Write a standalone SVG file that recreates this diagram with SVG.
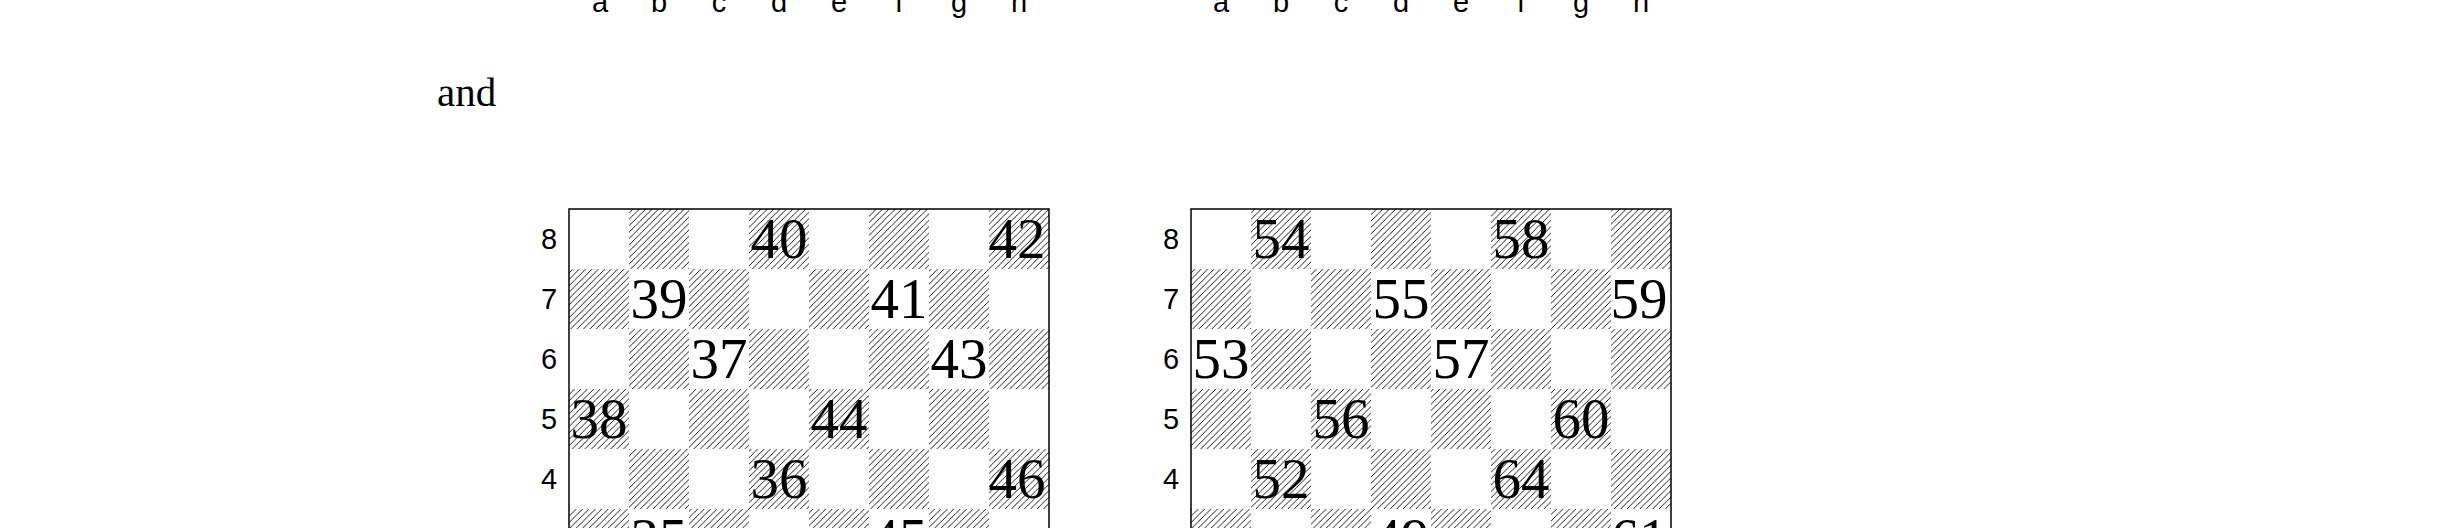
<svg xmlns="http://www.w3.org/2000/svg" xmlns:xlink="http://www.w3.org/1999/xlink" width="2448" height="528" viewBox="0 0 2448 528">
<style>
.lbl{font-family:"Liberation Sans","DejaVu Sans",sans-serif;font-size:29px;fill:#000;text-anchor:middle}
.num{font-family:"Liberation Serif","DejaVu Serif",serif;font-size:57px;fill:#000;text-anchor:middle}
.txt{font-family:"Liberation Serif","DejaVu Serif",serif;font-size:41px;fill:#000}
.dark{fill:url(#hatch)}
.frame{fill:none;stroke:#000;stroke-width:1.5}
</style>
<defs>
<pattern id="hatch" patternUnits="userSpaceOnUse" width="6.4" height="6.4">
<path d="M0,6.4 L6.4,0 M-1,1 L1,-1 M5.4,7.4 L7.4,5.4" stroke="#000" stroke-width="0.9" fill="none"/>
</pattern>
<g id="checker">
<rect class="dark" x="60" y="0" width="60" height="60"/><rect class="dark" x="180" y="0" width="60" height="60"/><rect class="dark" x="300" y="0" width="60" height="60"/><rect class="dark" x="420" y="0" width="60" height="60"/>
<rect class="dark" x="0" y="60" width="60" height="60"/><rect class="dark" x="120" y="60" width="60" height="60"/><rect class="dark" x="240" y="60" width="60" height="60"/><rect class="dark" x="360" y="60" width="60" height="60"/>
<rect class="dark" x="60" y="120" width="60" height="60"/><rect class="dark" x="180" y="120" width="60" height="60"/><rect class="dark" x="300" y="120" width="60" height="60"/><rect class="dark" x="420" y="120" width="60" height="60"/>
<rect class="dark" x="0" y="180" width="60" height="60"/><rect class="dark" x="120" y="180" width="60" height="60"/><rect class="dark" x="240" y="180" width="60" height="60"/><rect class="dark" x="360" y="180" width="60" height="60"/>
<rect class="dark" x="60" y="240" width="60" height="60"/><rect class="dark" x="180" y="240" width="60" height="60"/><rect class="dark" x="300" y="240" width="60" height="60"/><rect class="dark" x="420" y="240" width="60" height="60"/>
<rect class="dark" x="0" y="300" width="60" height="60"/><rect class="dark" x="120" y="300" width="60" height="60"/><rect class="dark" x="240" y="300" width="60" height="60"/><rect class="dark" x="360" y="300" width="60" height="60"/>
<rect class="dark" x="60" y="360" width="60" height="60"/><rect class="dark" x="180" y="360" width="60" height="60"/><rect class="dark" x="300" y="360" width="60" height="60"/><rect class="dark" x="420" y="360" width="60" height="60"/>
<rect class="dark" x="0" y="420" width="60" height="60"/><rect class="dark" x="120" y="420" width="60" height="60"/><rect class="dark" x="240" y="420" width="60" height="60"/><rect class="dark" x="360" y="420" width="60" height="60"/>
<rect class="frame" x="0" y="0" width="480" height="480"/>
</g>
</defs>
<rect x="0" y="0" width="2448" height="528" fill="#fff"/>

<g id="files-above">
<text class="lbl" x="600" y="12">a</text><text class="lbl" x="659" y="12">b</text><text class="lbl" x="719" y="12">c</text><text class="lbl" x="779" y="12">d</text><text class="lbl" x="839" y="12">e</text><text class="lbl" x="899" y="12">f</text><text class="lbl" x="959" y="12">g</text><text class="lbl" x="1019" y="12">h</text>
<text class="lbl" x="1221" y="12">a</text><text class="lbl" x="1281" y="12">b</text><text class="lbl" x="1341" y="12">c</text><text class="lbl" x="1401" y="12">d</text><text class="lbl" x="1461" y="12">e</text><text class="lbl" x="1521" y="12">f</text><text class="lbl" x="1581" y="12">g</text><text class="lbl" x="1641" y="12">h</text>
</g>

<text id="and" class="txt" x="437" y="106">and</text>

<g id="board1">
<use xlink:href="#checker" href="#checker" x="569" y="209"/>
<text class="lbl" x="549" y="249">8</text><text class="lbl" x="549" y="309">7</text><text class="lbl" x="549" y="369">6</text><text class="lbl" x="549" y="429">5</text><text class="lbl" x="549" y="489">4</text><text class="lbl" x="549" y="549">3</text>
<text class="num" x="779" y="258">40</text><text class="num" x="1017" y="258">42</text>
<text class="num" x="659" y="318">39</text><text class="num" x="899" y="318">41</text>
<text class="num" x="719" y="378">37</text><text class="num" x="959" y="378">43</text>
<text class="num" x="599" y="438">38</text><text class="num" x="839" y="438">44</text>
<text class="num" x="779" y="498">36</text><text class="num" x="1017" y="498">46</text>
<text class="num" x="659" y="558">35</text><text class="num" x="899" y="558">45</text>
</g>

<g id="board2">
<use xlink:href="#checker" href="#checker" x="1191" y="209"/>
<text class="lbl" x="1171" y="249">8</text><text class="lbl" x="1171" y="309">7</text><text class="lbl" x="1171" y="369">6</text><text class="lbl" x="1171" y="429">5</text><text class="lbl" x="1171" y="489">4</text><text class="lbl" x="1171" y="549">3</text>
<text class="num" x="1281" y="258">54</text><text class="num" x="1521" y="258">58</text>
<text class="num" x="1401" y="318">55</text><text class="num" x="1639" y="318">59</text>
<text class="num" x="1221" y="378">53</text><text class="num" x="1461" y="378">57</text>
<text class="num" x="1341" y="438">56</text><text class="num" x="1581" y="438">60</text>
<text class="num" x="1281" y="498">52</text><text class="num" x="1521" y="498">64</text>
<text class="num" x="1401" y="558">49</text><text class="num" x="1639" y="558">61</text>
</g>

<g id="connectors"></g>
</svg>
